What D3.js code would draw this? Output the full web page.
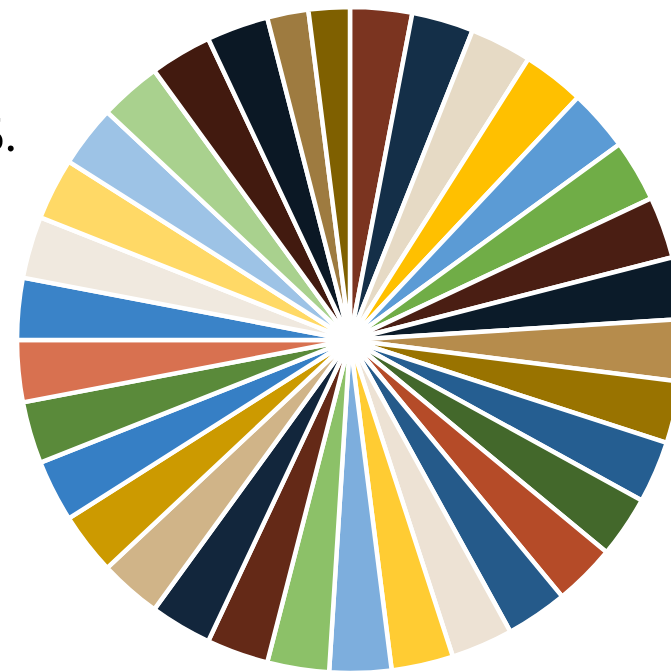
<!DOCTYPE html>
<html>
<head>
<meta charset="utf-8">
<script src="https://cdn.jsdelivr.net/npm/d3@7"></script>
<style>
  html, body { margin: 0; padding: 0; background: #fff; overflow: hidden; }
</style>
</head>
<body>
<svg></svg>
<script>
// Slice data, clockwise from 12 o'clock
const categories = d3.range(1, 35).map(i => "Item " + i);
const values = [3, 3, 3, 3, 3, 3, 3, 3, 3, 3, 3, 3, 3, 3, 3, 3,
                3, 3, 3, 3, 3, 3, 3, 3, 3, 3, 3, 3, 3, 3, 3, 3, 2, 2];
const colors = [
    "#7b3420", "#142f48", "#e6dac5", "#ffc000", "#5b9bd5", "#70ad47",
    "#4a1e13", "#0b1b29", "#b68c4c", "#997300", "#255e91", "#43682b",
    "#b54b28", "#255a8a", "#ede2d4", "#ffcc33", "#7daedd", "#8cc168",
    "#642917", "#12263c", "#d0b488", "#cc9a00", "#367fc5", "#5a8a3a",
    "#d87150", "#3a83c8", "#f0e9df", "#ffd966", "#9dc3e6", "#a9d18e",
    "#421a0f", "#0b1825", "#9e7b40", "#7f6000"
];
const titleText = "5.";

const width = 671;
const height = 672;
const cx = 350, cy = 340;
const radius = 333;

const data = categories.map((c, i) => ({ name: c, value: values[i], color: colors[i] }));

const svg = d3.select("svg")
    .attr("width", width)
    .attr("height", height);

const g = svg.append("g")
    .attr("transform", `translate(${cx}, ${cy})`);

const pie = d3.pie()
    .sort(null)
    .value(d => d.value);

const arc = d3.arc()
    .innerRadius(0)
    .outerRadius(radius);

g.selectAll("path")
    .data(pie(data))
    .enter()
    .append("path")
    .attr("d", arc)
    .attr("fill", d => d.data.color)
    .attr("stroke", "#fff")
    .attr("stroke-width", 4.5)
    .attr("stroke-linejoin", "round");

// title, mostly cut off on the left
svg.append("text")
    .attr("x", 17)
    .attr("y", 151)
    .attr("text-anchor", "end")
    .attr("font-family", "Liberation Serif, serif")
    .attr("font-size", "50px")
    .attr("fill", "#000")
    .text(titleText);
</script>
</body>
</html>
